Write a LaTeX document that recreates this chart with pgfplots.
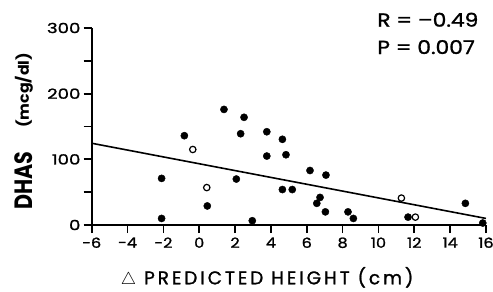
\documentclass[border=0pt]{standalone}
\usepackage{fontspec}
\setmainfont{Poppins}
\newfontfamily\medfont{Poppins}[FakeBold=1.2]
\usepackage{pgfplots}
\pgfplotsset{compat=1.18}
\begin{document}
\begin{tikzpicture}
\begin{axis}[
  scale only axis, width=394.3bp, height=197bp,
  xmin=-6, xmax=16, ymin=0, ymax=300,
  axis x line=bottom, axis y line=left,
  axis line style={-, line width=1.7bp, black},
  xtick={-6,-4,...,16}, ytick={0,50,...,300},
  yticklabels={0,,100,,200,,300},
  tick align=outside, major tick length=8bp,
  tick style={line width=1.7bp, black},
  yticklabel style={font=\fontsize{14}{14}\medfont, xscale=1.3, xshift=1bp},
  xticklabel style={font=\fontsize{14}{14}\medfont, xscale=1.15, yshift=-1bp},
  /pgf/number format/assume math mode=true,
  clip=false,
  xlabel={$\triangle$\ PREDICTED HEIGHT (cm)},
  xlabel style={at={(axis description cs:0.445,-0.266)}, anchor=center,
    font=\fontsize{18.5}{18.5}\medfont\addfontfeatures{LetterSpace=16}},
  ylabel={\resizebox*{58bp}{18bp}{\bfseries DHAS}\hspace{24bp}\resizebox*{75bp}{18bp}{\raisebox{\depth}{\bfseries (mcg/dl)}}},
  ylabel style={at={(axis description cs:-0.172,0.475)}, anchor=center},
]
\addplot[only marks, mark=*, mark size=3.6bp, black] coordinates {
 (-0.83,136) (-2.1,71) (-2.1,10) (0.45,29) (2.07,70) (2.31,139)
 (3.77,142) (4.64,130.5) (3.77,105) (4.84,107) (6.18,83) (7.07,76)
 (4.64,54) (5.19,54) (6.74,42) (6.56,33) (7.04,20) (8.30,20)
 (8.60,10) (2.96,6.5) (11.65,12) (14.85,33) (15.82,3) (1.38,176) (2.50,164)
};
\addplot[only marks, mark=o, mark size=3.2bp, black, line width=1.2bp, mark options={fill=white}] coordinates {
 (-0.36,115) (0.42,57) (11.28,41) (12.06,12)
};
\addplot[black, line width=1.6bp, no marks] coordinates {(-6,124.5) (16,10)};
\node[anchor=base west, inner sep=0pt, font=\fontsize{19}{19}\medfont] at (rel axis cs:0.724,1.0066) {\scalebox{1.15}[1]{R = –0.49}};
\node[anchor=base west, inner sep=0pt, font=\fontsize{19}{19}\medfont] at (rel axis cs:0.724,0.868) {\scalebox{1.15}[1]{P = 0.007}};
\coordinate (O) at (rel axis cs:0,0);
\end{axis}
\pgfresetboundingbox
\path[use as bounding box] ([shift={(-91.7bp,-67bp)}]O) rectangle ++(493bp,292bp);
\end{tikzpicture}
\end{document}
